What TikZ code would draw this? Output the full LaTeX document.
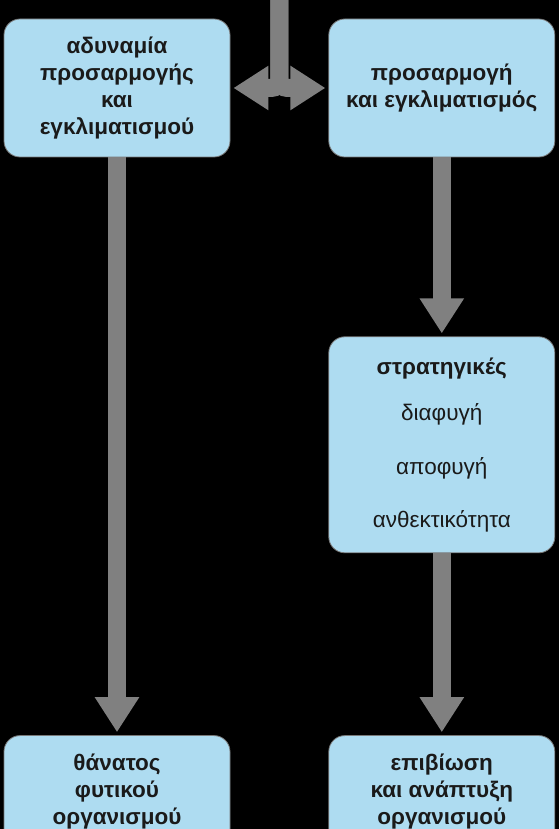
\documentclass[tikz,border=0pt]{standalone}
\usepackage{fontspec}
\setmainfont{Liberation Sans}
\usetikzlibrary{positioning,arrows.meta,calc}
\definecolor{boxfill}{RGB}{174,220,241}
\definecolor{boxline}{RGB}{120,120,120}
\definecolor{flow}{RGB}{128,128,128}
\definecolor{ink}{RGB}{26,26,26}

\begin{document}
\begin{tikzpicture}[
    x=1pt, y=1pt,
    block/.style={draw=boxline, line width=0.8pt, fill=boxfill, rounded corners=16pt, minimum width=226pt, minimum height=138pt, align=center, text=ink, font=\fontsize{22.5}{27}\selectfont\bfseries},
    arrow/.style={-{Triangle[width=42pt, length=35pt]}, line width=18pt, color=flow, shorten >=3pt}
]
    % Frame
    \useasboundingbox (0,0) rectangle (559,829);
    \clip (0,0) rectangle (559,829);
    \fill[black] (0,0) rectangle (559,829);

    % Top row
    \node[block] (fail) at (117,741) {αδυναμία\\προσαρμογής\\και\\εγκλιματισμού};
    \node[block, right=98pt of fail] (adapt) {προσαρμογή\\και εγκλιματισμός};

    % Strategies
    \node[block, minimum height=216pt, below=179pt of adapt, font=\fontsize{22.5}{27}\selectfont] (strat) {\textbf{στρατηγικές}\\[19pt]διαφυγή\\[27pt]αποφυγή\\[26pt]ανθεκτικότητα};

    % Bottom row
    \node[block, minimum height=112pt, below=182pt of strat] (survive) {επιβίωση\\και ανάπτυξη\\οργανισμού};
    \node[block, minimum height=112pt] (death) at (fail |- survive) {θάνατος\\φυτικού\\οργανισμού};

    % Arrows
    \coordinate (split) at ($(fail.east)!0.5!(adapt.west)$);
    \coordinate (src) at ($(split)+(0,95)$);
    \draw[arrow, rounded corners=8pt] (src) |- (fail.east);
    \draw[arrow, rounded corners=8pt] (src) |- (adapt.west);
    \draw[arrow] (fail) -- (death);
    \draw[arrow] (adapt) -- (strat);
    \draw[arrow] (strat) -- (survive);
\end{tikzpicture}
\end{document}
